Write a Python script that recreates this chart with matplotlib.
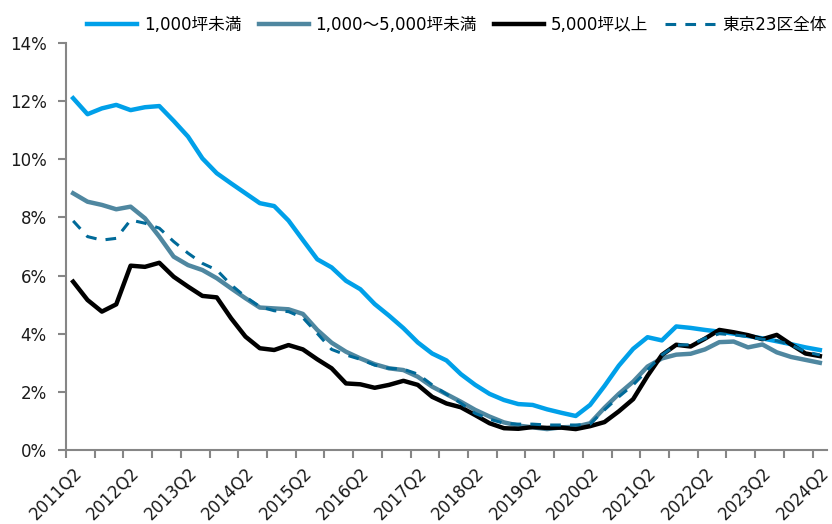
import numpy as np
import matplotlib
matplotlib.use("Agg")
from matplotlib import pyplot as plt
from matplotlib.ticker import FixedLocator, FuncFormatter

plt.rcParams['font.family'] = ['DejaVu Sans', 'Noto Sans CJK JP']

# quarters 2011Q2 .. 2024Q2
quarters = []
for y in range(2011, 2025):
    for q in range(1, 5):
        quarters.append("%dQ%d" % (y, q))
quarters = quarters[1:quarters.index("2024Q2") + 1]

# vacancy rate (%)
lt1000 = [12.10, 11.55, 11.75, 11.87, 11.69, 11.79, 11.83, 11.32, 10.78, 10.03,
          9.52, 9.17, 8.83, 8.49, 8.39, 7.89, 7.22, 6.56, 6.28, 5.82,
          5.53, 5.02, 4.62, 4.19, 3.70, 3.32, 3.08, 2.61, 2.24, 1.93,
          1.72, 1.58, 1.55, 1.40, 1.28, 1.17, 1.55, 2.20, 2.90, 3.48,
          3.88, 3.77, 4.25, 4.20, 4.13, 4.07, 4.00, 3.92, 3.84, 3.74,
          3.64, 3.53, 3.44]
mid = [8.83, 8.54, 8.43, 8.28, 8.37, 7.97, 7.34, 6.65, 6.36, 6.19,
       5.91, 5.56, 5.22, 4.90, 4.87, 4.84, 4.68, 4.13, 3.69, 3.38,
       3.15, 2.95, 2.81, 2.75, 2.52, 2.18, 1.92, 1.66, 1.38, 1.15,
       0.95, 0.84, 0.78, 0.72, 0.78, 0.80, 0.92, 1.45, 1.93, 2.35,
       2.87, 3.15, 3.28, 3.31, 3.46, 3.71, 3.73, 3.53, 3.63, 3.36,
       3.20, 3.10, 3.00]
ge5000 = [5.79, 5.16, 4.76, 5.01, 6.34, 6.30, 6.44, 5.96, 5.62, 5.30,
          5.25, 4.53, 3.90, 3.50, 3.44, 3.61, 3.46, 3.12, 2.81, 2.29,
          2.26, 2.14, 2.24, 2.38, 2.24, 1.83, 1.60, 1.47, 1.20, 0.92,
          0.75, 0.73, 0.79, 0.76, 0.77, 0.72, 0.82, 0.96, 1.33, 1.75,
          2.55, 3.27, 3.62, 3.56, 3.83, 4.13, 4.05, 3.95, 3.81, 3.96,
          3.63, 3.32, 3.23]
total = [7.88, 7.34, 7.22, 7.28, 7.91, 7.80, 7.63, 7.17, 6.77, 6.42,
         6.19, 5.68, 5.27, 4.93, 4.79, 4.76, 4.55, 4.01, 3.46, 3.27,
         3.12, 2.92, 2.81, 2.78, 2.61, 2.24, 1.92, 1.61, 1.26, 1.06,
         0.92, 0.89, 0.89, 0.86, 0.86, 0.86, 0.89, 1.38, 1.83, 2.24,
         2.75, 3.27, 3.61, 3.62, 3.84, 4.00, 3.96, 3.90, 3.81, 3.76,
         3.61, 3.38, 3.27]

x = np.arange(len(quarters))

fig = plt.figure(figsize=(8.32, 5.24), dpi=100)
ax = fig.add_axes([0.0793, 0.1412, 0.9147, 0.7768])

ax.plot(x, lt1000, color="#00A0E9", lw=3.2, label="1,000坪未満")
ax.plot(x, mid, color="#4F87A0", lw=3.2, label="1,000～5,000坪未満")
ax.plot(x, ge5000, color="#000000", lw=3.2, label="5,000坪以上")
ax.plot(x, total, color="#006A99", lw=2.2, ls=(0, (3.5, 3)), label="東京23区全体")

ax.set_xlim(-0.5, len(quarters) - 0.5)
ax.set_ylim(0, 14)
ax.set_yticks(range(0, 15, 2))
ax.yaxis.set_major_formatter(FuncFormatter(lambda v, p: "%d%%" % v))

ax.set_xticks(x[::4])
ax.set_xticklabels(quarters[::4], rotation=45, ha="right", rotation_mode="anchor")
ax.xaxis.set_minor_locator(FixedLocator(np.arange(-0.5, len(quarters) - 1, 2)))
ax.tick_params(axis="x", which="major", length=0, pad=10, labelsize=12, colors="#1a1a1a")
ax.tick_params(axis="x", which="minor", length=6, width=1.5, color="#868686")
ax.tick_params(axis="y", length=6, width=1.5, color="#868686", pad=8,
               labelsize=12, labelcolor="#1a1a1a")

for s in ["top", "right"]:
    ax.spines[s].set_visible(False)
for s in ["left", "bottom"]:
    ax.spines[s].set_color("#868686")
    ax.spines[s].set_linewidth(1.5)

fig.legend(loc="center", bbox_to_anchor=(0.549, 0.952), ncol=4, frameon=False,
           fontsize=12, handlelength=3.0, handletextpad=0.4, columnspacing=1.05)

fig.savefig("out.png", dpi=100)
